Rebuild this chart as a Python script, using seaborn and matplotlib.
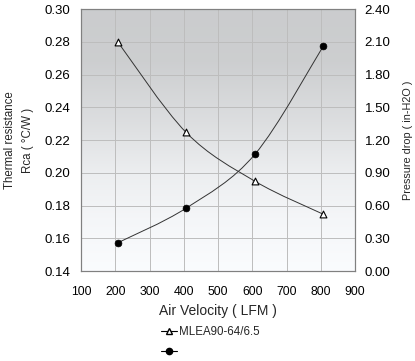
import numpy as np
import pandas as pd
import matplotlib
matplotlib.use('Agg')
import matplotlib.pyplot as plt
from matplotlib.path import Path
from matplotlib.patches import PathPatch
from matplotlib.lines import Line2D
import seaborn as sns

# data
velocity = [207, 407, 608, 807]
resistance = [0.280, 0.2246, 0.1948, 0.1747]
pressure = [0.258, 0.576, 1.07, 2.058]
series_label = "MLEA90-64/6.5"

x_ticks = [100, 200, 300, 400, 500, 600, 700, 800, 900]
left_ticks = [0.14, 0.16, 0.18, 0.20, 0.22, 0.24, 0.26, 0.28, 0.30]
right_ticks = [0.0, 0.3, 0.6, 0.9, 1.2, 1.5, 1.8, 2.1, 2.4]

df = pd.DataFrame({'velocity': velocity, 'resistance': resistance, 'pressure': pressure})

sns.set_theme(style='white')
plt.rcParams['font.family'] = ['Liberation Sans', 'DejaVu Sans']


def smooth_path(x, y):
    # excel-like smoothed line (bezier through the points)
    pts = np.column_stack([x, y]).astype(float)
    p = np.vstack([pts[0], pts, pts[-1]])
    verts = [pts[0]]
    codes = [Path.MOVETO]
    for i in range(1, len(p) - 2):
        c1 = p[i] + (p[i + 1] - p[i - 1]) / 6
        c2 = p[i + 1] - (p[i + 2] - p[i]) / 6
        verts += [c1, c2, p[i + 1]]
        codes += [Path.CURVE4] * 3
    return Path(verts, codes)


fig = plt.figure(figsize=(4.15, 3.61), dpi=100)
ax = fig.add_axes([81 / 415, 1 - 271 / 361, 274 / 415, 262 / 361])

# gray-to-white background
stops = [0.0, 0.2, 0.42, 0.63, 0.8, 1.0]
shades = [206, 208, 223, 240, 248, 254]
rows = np.interp(np.linspace(0, 1, 256), stops, shades) / 255
grad = np.stack([rows * 0.985, rows * 0.992, rows], axis=-1)[:, None, :].repeat(2, axis=1)
grad = np.clip(grad, 0, 1)
ax.imshow(grad, extent=[0, 1, 0, 1], transform=ax.transAxes, aspect='auto', zorder=0)

ax.set_xlim(100, 900)
ax.set_ylim(0.14, 0.30)
ax.set_xticks(x_ticks)
ax.set_yticks(left_ticks)
ax.set_yticklabels([f"{v:.2f}" for v in left_ticks])
ax.grid(True, color='#bdbdbd', lw=0.7, zorder=1)
ax.set_axisbelow(True)

line_kw = dict(color='#333333', lw=0.7)
ax.add_patch(PathPatch(smooth_path(df['velocity'], df['resistance']), fill=False, zorder=3, **line_kw))
sns.scatterplot(data=df, x='velocity', y='resistance', ax=ax, marker='^', s=24,
                color='white', edgecolor='black', linewidth=0.8, zorder=4)

ax2 = ax.twinx()
ax2.set_ylim(0, 2.4)
ax2.set_yticks(right_ticks)
ax2.set_yticklabels([f"{v:.2f}" for v in right_ticks])
ax2.add_patch(PathPatch(smooth_path(df['velocity'], df['pressure']), fill=False, zorder=3, **line_kw))
sns.scatterplot(data=df, x='velocity', y='pressure', ax=ax2, marker='o', s=24,
                color='black', edgecolor='black', linewidth=0.5, zorder=4)

for a in (ax, ax2):
    for s in a.spines.values():
        s.set_color('#808080')
        s.set_linewidth(0.8)
    a.tick_params(length=0, labelsize=9.5, colors='black')
ax.tick_params(axis='x', labelsize=8.8, pad=11)
ax.tick_params(axis='y', pad=8)
ax2.tick_params(axis='y', pad=7)

ax.set_xlabel("Air Velocity ( LFM )", fontsize=10, labelpad=4)
ax.set_ylabel("Thermal resistance\nRca ( °C/W )", fontsize=8.3, labelpad=7, linespacing=1.75)
ax2.set_ylabel("Pressure drop ( in-H2O )", fontsize=7.8, labelpad=9)

handles = [
    Line2D([], [], color='black', lw=0.8, marker='^', markersize=4.5,
           markerfacecolor='white', markeredgecolor='black'),
    Line2D([], [], color='black', lw=0.8, marker='o', markersize=4.5,
           markerfacecolor='black', markeredgecolor='black'),
]
fig.legend(handles, [series_label, ""], loc='upper left',
           bbox_to_anchor=(155 / 415, 1 - 320 / 361), frameon=False,
           fontsize=8.3, handlelength=1.4, handletextpad=0.15, labelspacing=0.75,
           borderpad=0)

fig.savefig('out.png', dpi=100)
